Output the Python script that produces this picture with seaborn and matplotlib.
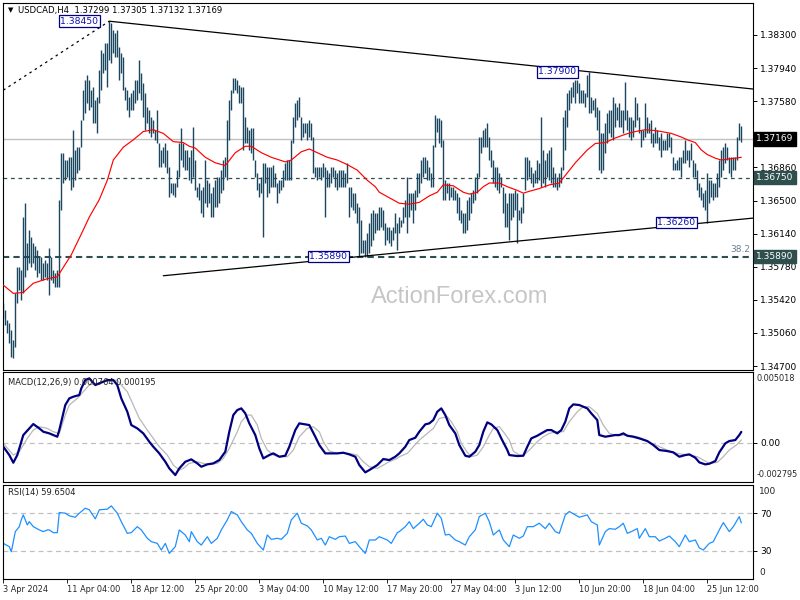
import numpy as np
import pandas as pd
import matplotlib
matplotlib.use("Agg")
import matplotlib.pyplot as plt
from matplotlib import transforms
import seaborn as sns

# ---------------- data ----------------
high = [1.3539,1.3531,1.3520,1.3517,1.3509,1.3498,1.3549,1.3578,1.3578,1.3574,
1.3632,1.3647,1.3604,1.3618,1.3610,1.3604,1.3600,1.3596,1.3589,1.3589,
1.3582,1.3585,1.3582,1.3598,1.3589,1.3574,1.3571,1.3574,1.3651,1.3702,
1.3702,1.3694,1.3694,1.3697,1.3697,1.3727,1.3705,1.3708,1.3708,1.3738,
1.3770,1.3781,1.3787,1.3781,1.3770,1.3773,1.3759,1.3763,1.3792,1.3814,
1.3810,1.3821,1.3821,1.3845,1.3843,1.3835,1.3832,1.3835,1.3817,1.3810,
1.3806,1.3773,1.3770,1.3763,1.3767,1.3770,1.3781,1.3781,1.3803,1.3789,
1.3778,1.3767,1.3752,1.3748,1.3741,1.3738,1.3727,1.3748,1.3713,1.3705,
1.3708,1.3713,1.3705,1.3686,1.3669,1.3669,1.3669,1.3683,1.3713,1.3729,
1.3713,1.3705,1.3705,1.3697,1.3705,1.3730,1.3694,1.3665,1.3669,1.3661,
1.3665,1.3694,1.3672,1.3669,1.3658,1.3665,1.3672,1.3676,1.3676,1.3683,
1.3694,1.3697,1.3738,1.3759,1.3770,1.3783,1.3783,1.3781,1.3776,1.3773,
1.3773,1.3741,1.3730,1.3727,1.3729,1.3729,1.3694,1.3680,1.3669,1.3676,
1.3691,1.3691,1.3686,1.3686,1.3686,1.3689,1.3680,1.3669,1.3672,1.3672,
1.3683,1.3691,1.3694,1.3694,1.3716,1.3741,1.3756,1.3759,1.3763,1.3741,
1.3734,1.3734,1.3734,1.3738,1.3734,1.3719,1.3686,1.3686,1.3686,1.3686,
1.3691,1.3686,1.3683,1.3680,1.3686,1.3686,1.3683,1.3680,1.3683,1.3683,
1.3683,1.3680,1.3691,1.3665,1.3665,1.3658,1.3658,1.3647,1.3643,1.3629,
1.3607,1.3607,1.3615,1.3626,1.3636,1.3640,1.3636,1.3636,1.3643,1.3643,
1.3640,1.3626,1.3621,1.3621,1.3618,1.3621,1.3636,1.3626,1.3632,1.3629,
1.3643,1.3651,1.3676,1.3658,1.3658,1.3658,1.3661,1.3680,1.3680,1.3694,
1.3697,1.3697,1.3694,1.3686,1.3680,1.3710,1.3743,1.3740,1.3740,1.3738,
1.3716,1.3672,1.3669,1.3669,1.3665,1.3665,1.3661,1.3658,1.3654,1.3640,
1.3636,1.3636,1.3651,1.3654,1.3658,1.3661,1.3676,1.3680,1.3719,1.3719,
1.3727,1.3729,1.3734,1.3719,1.3705,1.3694,1.3686,1.3686,1.3680,1.3676,
1.3665,1.3658,1.3647,1.3658,1.3658,1.3658,1.3661,1.3658,1.3640,1.3643,
1.3658,1.3697,1.3697,1.3694,1.3686,1.3680,1.3683,1.3694,1.3691,1.3741,
1.3705,1.3694,1.3702,1.3705,1.3708,1.3686,1.3680,1.3676,1.3680,1.3686,
1.3741,1.3748,1.3767,1.3770,1.3773,1.3779,1.3781,1.3781,1.3778,1.3770,
1.3770,1.3767,1.3787,1.3790,1.3763,1.3759,1.3762,1.3752,1.3748,1.3723,
1.3723,1.3734,1.3745,1.3748,1.3748,1.3763,1.3756,1.3752,1.3756,1.3748,
1.3748,1.3779,1.3748,1.3741,1.3741,1.3738,1.3763,1.3756,1.3741,1.3727,
1.3727,1.3756,1.3741,1.3734,1.3738,1.3723,1.3730,1.3727,1.3719,1.3723,
1.3716,1.3716,1.3723,1.3723,1.3719,1.3697,1.3691,1.3694,1.3697,1.3697,
1.3705,1.3716,1.3705,1.3705,1.3713,1.3694,1.3691,1.3683,1.3669,1.3665,
1.3658,1.3661,1.3680,1.3672,1.3672,1.3669,1.3669,1.3680,1.3694,1.3705,
1.3708,1.3713,1.3708,1.3697,1.3697,1.3697,1.3697,1.3719,1.3734,1.37305]

low = [1.3522,1.3515,1.3506,1.3495,1.3480,1.3479,1.3491,1.3539,1.3553,1.3542,
1.3549,1.3567,1.3574,1.3582,1.3578,1.3582,1.3574,1.3567,1.3571,1.3564,
1.3564,1.3567,1.3564,1.3547,1.3564,1.3560,1.3556,1.3556,1.3556,1.3640,
1.3669,1.3672,1.3676,1.3672,1.3661,1.3665,1.3672,1.3680,1.3683,1.3708,
1.3738,1.3745,1.3756,1.3748,1.3752,1.3734,1.3734,1.3723,1.3756,1.3770,
1.3789,1.3792,1.3773,1.3803,1.3800,1.3810,1.3806,1.3806,1.3781,1.3789,
1.3770,1.3759,1.3748,1.3741,1.3748,1.3748,1.3756,1.3759,1.3767,1.3759,
1.3741,1.3727,1.3734,1.3723,1.3719,1.3723,1.3716,1.3713,1.3686,1.3686,
1.3691,1.3686,1.3680,1.3654,1.3658,1.3656,1.3654,1.3665,1.3676,1.3694,
1.3686,1.3683,1.3683,1.3672,1.3669,1.3676,1.3661,1.3654,1.3651,1.3636,
1.3632,1.3647,1.3643,1.3647,1.3632,1.3632,1.3643,1.3643,1.3647,1.3658,
1.3661,1.3676,1.3672,1.3716,1.3748,1.3767,1.3770,1.3767,1.3756,1.3756,
1.3705,1.3713,1.3713,1.3705,1.3702,1.3694,1.3676,1.3661,1.3654,1.3658,
1.3610,1.3669,1.3654,1.3658,1.3665,1.3665,1.3665,1.3647,1.3658,1.3661,
1.3665,1.3672,1.3672,1.3672,1.3672,1.3713,1.3730,1.3738,1.3741,1.3716,
1.3719,1.3723,1.3716,1.3719,1.3716,1.3680,1.3676,1.3672,1.3676,1.3672,
1.3676,1.3632,1.3665,1.3665,1.3669,1.3676,1.3665,1.3661,1.3665,1.3665,
1.3665,1.3665,1.3669,1.3632,1.3643,1.3640,1.3636,1.3626,1.3589,1.3593,
1.3593,1.3589,1.3589,1.3593,1.3600,1.3607,1.3615,1.3618,1.3618,1.3621,
1.3618,1.3602,1.3607,1.3604,1.3600,1.3607,1.3615,1.3596,1.3615,1.3621,
1.3626,1.3632,1.3615,1.3632,1.3640,1.3626,1.3640,1.3654,1.3658,1.3669,
1.3676,1.3680,1.3672,1.3672,1.3665,1.3665,1.3708,1.3725,1.3713,1.3708,
1.3651,1.3651,1.3658,1.3651,1.3654,1.3651,1.3651,1.3636,1.3629,1.3626,
1.3615,1.3615,1.3618,1.3629,1.3636,1.3647,1.3651,1.3658,1.3676,1.3702,
1.3708,1.3708,1.3708,1.3694,1.3686,1.3669,1.3665,1.3661,1.3658,1.3665,
1.3636,1.3621,1.3621,1.3607,1.3629,1.3632,1.3640,1.3604,1.3629,1.3626,
1.3636,1.3661,1.3672,1.3676,1.3669,1.3665,1.3669,1.3669,1.3672,1.3665,
1.3669,1.3665,1.3676,1.3672,1.3669,1.3665,1.3665,1.3661,1.3665,1.3669,
1.3683,1.3705,1.3730,1.3748,1.3756,1.3763,1.3756,1.3767,1.3756,1.3756,
1.3756,1.3752,1.3763,1.3745,1.3745,1.3748,1.3741,1.3727,1.3683,1.3680,
1.3683,1.3702,1.3713,1.3723,1.3719,1.3716,1.3730,1.3738,1.3730,1.3730,
1.3723,1.3738,1.3727,1.3719,1.3716,1.3719,1.3730,1.3738,1.3723,1.3708,
1.3716,1.3719,1.3723,1.3723,1.3713,1.3708,1.3713,1.3713,1.3705,1.3697,
1.3705,1.3705,1.3705,1.3708,1.3702,1.3683,1.3683,1.3683,1.3683,1.3676,
1.3691,1.3691,1.3694,1.3686,1.3694,1.3676,1.3676,1.3661,1.3654,1.3651,
1.3643,1.3640,1.3626,1.3647,1.3654,1.3651,1.3654,1.3654,1.3665,1.3676,
1.3683,1.3691,1.3694,1.3680,1.3676,1.3683,1.3683,1.3694,1.3716,1.37132]

ma_bar = [0,5,10,15,22,27,34,40,43,48,52,55,60,65,70,75,80,85,90,93,96,101,106,111,116,121,124,129,
          134,141,144,149,153,157,162,167,172,177,182,186,188,193,198,203,208,213,217,220,225,230,233,
          237,240,243,248,252,257,260,263,268,273,278,282,286,289,292,296,301,306,311,316,321,326,329,
          334,339,342,346,349,352,356,359,362,366,369]
ma_val = [1.3558,1.3549,1.3550,1.3560,1.3565,1.3567,1.3591,1.3618,1.3632,1.3651,1.3672,1.3694,1.3708,
          1.3716,1.3725,1.3727,1.3723,1.3714,1.3713,1.3709,1.3707,1.3697,1.3691,1.3688,1.3702,1.3709,
          1.3709,1.3702,1.3697,1.3692,1.3694,1.3703,1.3706,1.3702,1.3697,1.3694,1.3689,1.3683,1.3672,
          1.3665,1.3659,1.3653,1.3647,1.3646,1.3648,1.3655,1.3659,1.3667,1.3666,1.3659,1.3657,1.3659,
          1.3665,1.3669,1.3669,1.3665,1.3661,1.3658,1.3660,1.3663,1.3667,1.3669,1.3680,1.3691,1.3698,
          1.3705,1.3712,1.3713,1.3718,1.3722,1.3725,1.3727,1.3726,1.3725,1.3723,1.3719,1.3716,1.3713,
          1.3705,1.3700,1.3696,1.3694,1.3695,1.3696,1.3697]

macd_bar = [0,3,5,7,10,13,15,18,20,23,25,27,28,31,33,35,38,39,41,43,46,48,52,55,57,59,62,64,67,70,73,
            75,78,81,83,86,88,91,94,97,99,102,105,108,111,113,115,117,119,121,123,126,128,130,133,135,
            138,141,143,146,148,151,153,156,158,161,163,167,170,173,176,178,181,183,187,190,193,196,198,
            201,203,206,208,211,213,215,217,219,221,223,226,228,231,233,236,238,240,242,244,247,249,252,
            253,257,260,262,264,267,269,272,274,277,279,281,283,285,288,292,294,297,298,301,303,306,308,
            310,312,315,318,322,325,328,332,335,338,341,343,346,348,351,353,356,358,361,363,366,368,369]
macd_val = [-289,-881,-1425,-881,540,1013,1321,1013,777,658,540,421,895,2671,3144,3263,3381,3855,4446,
            4565,4091,4210,4446,4446,4091,3144,2197,1250,1013,658,66,-289,-762,-1355,-1828,-2301,-1828,
            -1355,-1188,-1473,-1710,-1544,-1473,-1236,-644,777,1960,2316,2434,2079,1369,540,-407,-1117,
            -881,-762,-999,-928,-289,895,1369,1298,1250,421,-170,-762,-762,-762,-715,-833,-999,-1591,
            -2112,-1946,-1591,-1165,-1236,-999,-762,-289,185,350,777,1298,1369,1605,2197,2434,1960,1250,
            658,-170,-928,-999,-644,-170,777,1440,1298,895,303,-526,-881,-952,-928,-289,303,492,658,895,
            895,658,895,1487,2434,2718,2671,2434,2079,1605,540,421,469,540,540,658,492,421,303,114,-170,
            -526,-597,-691,-999,-881,-833,-1070,-1401,-1544,-1497,-1307,-691,-52,114,185,540,764]

sig_bar = [0,5,8,12,15,18,22,25,28,31,33,37,40,43,47,50,53,57,59,62,65,68,72,75,78,82,85,88,90,93,97,
           100,103,107,110,113,117,119,122,124,127,129,132,135,138,142,145,148,152,155,158,160,163,167,
           170,173,177,180,183,187,190,193,197,198,202,205,208,212,215,218,222,224,227,229,232,234,237,
           240,243,245,248,250,253,255,258,260,263,267,270,273,277,280,283,287,290,293,297,300,303,307,
           310,313,317,320,323,327,330,333,337,340,343,347,350,353,357,360,363,367,369]
sig_val = [-52,-881,-644,303,895,1132,1013,777,658,1960,2671,3144,3618,4091,4210,4328,4375,4446,4091,
           3618,2671,1724,895,303,-289,-881,-1591,-1946,-1828,-1473,-1355,-1473,-1544,-1473,-1117,-407,
           777,1487,1960,1960,1250,303,-526,-881,-999,-999,-526,421,1013,1132,777,66,-597,-762,-762,-762,
           -881,-1355,-1710,-1828,-1591,-1355,-1117,-999,-762,-289,185,658,1013,1724,1842,1487,777,-52,
           -691,-999,-881,-289,540,1013,1132,777,185,-597,-881,-928,-526,66,421,658,777,777,1487,2197,
           2552,2552,2079,1250,658,492,540,492,421,256,19,-218,-407,-597,-762,-833,-881,-999,-1236,-1473,
           -1401,-999,-526,-123,195]

rsi_bar = [0,3,4,6,8,9,10,12,13,15,18,20,22,23,25,27,28,31,33,36,38,41,43,46,48,52,54,57,59,62,64,67,
           69,72,74,77,79,81,83,86,88,91,93,94,97,99,102,104,107,109,112,114,117,119,122,124,127,130,132,
           134,137,139,142,144,147,149,152,154,157,159,161,163,166,168,171,173,176,178,181,183,186,188,
           192,194,197,198,201,203,205,208,210,212,214,217,219,221,223,226,228,231,233,236,238,241,243,
           245,248,250,253,255,258,260,262,265,268,271,273,276,278,281,283,286,288,292,294,297,298,301,
           303,306,308,310,312,314,317,318,321,323,326,328,331,333,336,338,341,343,346,348,350,353,355,
           358,360,363,365,368,369]
rsi_val = [37.9,34.4,29.0,50.4,55.7,62.9,68.2,57.5,61.0,55.7,52.2,50.4,52.2,52.2,49.3,49.3,70.7,70.0,
           67.2,65.7,70.0,75.3,73.6,64.0,73.6,74.3,77.8,70.0,61.0,48.6,49.3,55.7,52.2,43.3,39.7,37.9,
           30.8,37.9,27.2,34.4,52.2,46.8,39.7,50.4,39.7,36.1,45.0,37.9,43.3,52.2,62.9,71.8,68.2,61.0,
           52.2,48.6,37.9,30.8,46.8,42.2,43.3,42.2,48.6,62.9,70.0,59.3,56.5,52.2,41.5,43.3,36.1,45.0,
           42.2,45.0,45.7,37.9,39.7,34.4,27.2,41.5,41.5,45.0,41.5,37.9,49.3,50.4,55.7,61.0,53.6,59.3,
           63.6,57.5,55.7,70.0,64.6,46.8,47.5,41.5,39.7,36.1,45.0,52.2,66.4,70.0,61.0,46.8,52.2,41.5,
           34.4,46.8,43.3,45.7,55.7,55.7,59.3,53.6,59.3,50.4,48.6,68.2,71.8,68.2,65.7,68.2,61.0,57.5,
           36.1,50.4,53.6,52.9,55.7,59.3,48.6,50.4,53.6,43.3,53.6,45.0,45.0,40.4,43.3,45.7,39.7,34.4,
           46.8,39.7,41.5,33.1,30.8,37.9,39.7,52.2,60.0,50.4,55.7,66.4,59.65]

date_bar = [0, 32, 64, 96, 128, 160, 192, 224, 256, 288, 320, 352]
date_labels = ["3 Apr 2024", "11 Apr 04:00", "18 Apr 12:00", "25 Apr 20:00", "3 May 04:00",
               "10 May 12:00", "17 May 20:00", "27 May 04:00", "3 Jun 12:00", "10 Jun 20:00",
               "18 Jun 04:00", "25 Jun 12:00"]
price_ticks = [1.3830, 1.3794, 1.3758, 1.3722, 1.3686, 1.3650, 1.3614, 1.3578, 1.3542, 1.3506, 1.3470]

# trendline anchors (bar, price)
upper_bar, upper_px = [53, 293], [1.3845, 1.3790]
lower_bar, lower_px = [178, 352], [1.3589, 1.3626]
dotted_bar, dotted_px = [0, 53], [1.3770, 1.3845]

last_price = 1.37169
level_a = 1.3675
level_b = 1.3589
swing_bar = [47.5, 286.5, 346, 172]
swing_px = [1.3845, 1.3790, 1.3626, 1.3589]
swing_txt = ["1.38450", "1.37900", "1.36260", "1.35890"]

# ---------------- figure ----------------
sns.set_style("white")
plt.rcParams["font.family"] = ["DejaVu Sans"]
plt.rcParams["axes.linewidth"] = 0.8

BAR = "#1a4660"
FS = 6.5
W, H = 800, 600
fig = plt.figure(figsize=(8, 6), dpi=100)
L, WD = 3 / W, 750 / W
ax1 = fig.add_axes([L, 1 - 370 / H, WD, 367 / H])
ax2 = fig.add_axes([L, 1 - 482 / H, WD, 110 / H])
ax3 = fig.add_axes([L, 1 - 579 / H, WD, 94 / H])

XMIN, XMAX = -0.15, 374.85
for ax in (ax1, ax2, ax3):
    ax.set_xlim(XMIN, XMAX)
    for s in ax.spines.values():
        s.set_color("black")
        s.set_linewidth(0.8)
    ax.set_xticks([])
    ax.yaxis.tick_right()
    ax.tick_params(axis="y", direction="out", length=3, width=0.7, colors="black",
                   labelsize=FS, pad=2)

# ---- main price panel ----
bars = pd.DataFrame({"bar": np.arange(len(high)), "high": high, "low": low})
ax1.set_ylim(1.346566, 1.386480)
ax1.axhline(last_price, color="#c0c0c0", lw=1.0, zorder=1)
ax1.axhline(level_a, color="#2f4f4f", lw=0.9, ls=(0, (3, 3)), zorder=1)
ax1.axhline(level_b, color="#2f4f4f", lw=1.5, ls=(0, (3, 2)), zorder=1)
ax1.vlines(bars["bar"], bars["low"], bars["high"], colors=BAR, linewidth=1.0,
           antialiased=True, zorder=2)
sns.lineplot(x=ma_bar, y=ma_val, ax=ax1, color="#ff0000", linewidth=0.85, zorder=3)

def extend(bx, py, x0, x1):
    slope = (py[1] - py[0]) / (bx[1] - bx[0])
    return [x0, x1], [py[0] + slope * (x0 - bx[0]), py[0] + slope * (x1 - bx[0])]

ux, uy = extend(upper_bar, upper_px, upper_bar[0], XMAX)
ax1.plot(ux, uy, color="black", lw=0.9, zorder=4)
lx, ly = extend(lower_bar, lower_px, 80, XMAX)
ax1.plot(lx, ly, color="black", lw=0.9, zorder=4)
ax1.plot(dotted_bar, dotted_px, color="black", lw=0.9, ls=(0, (2, 3)), zorder=4)

ax1.set_yticks(price_ticks)
# the 1.37220 label sits hidden under the current-price box in the reference
ax1.set_yticklabels([("" if abs(t - 1.3722) < 1e-6 else f"{t:.5f}") for t in price_ticks])

for bx, py, tx in zip(swing_bar, swing_px, swing_txt):
    ax1.text(bx, py, tx, ha="right", va="center", fontsize=6.7, color="#1010b0", zorder=6,
             bbox=dict(boxstyle="square,pad=0.15", fc="white", ec="#000080", lw=0.9))

ax1.text(373.4, 1.3597, "38.2", ha="right", va="center", fontsize=FS, color="#6a8090", zorder=6)

tr = transforms.blended_transform_factory(ax1.transAxes, ax1.transData)
ax1.text(1.004, last_price, f"{last_price:.5f}", transform=tr, ha="left", va="center",
         fontsize=FS, color="white", zorder=10,
         bbox=dict(boxstyle="square,pad=0.25", fc="black", ec="black"))
for lv in (level_a, level_b):
    ax1.text(1.004, lv, f"{lv:.5f}", transform=tr, ha="left", va="center", fontsize=FS,
             color="white", zorder=10,
             bbox=dict(boxstyle="square,pad=0.25", fc="#2f4f4f", ec="#2f4f4f"))

fig.text(460 / W, 1 - 297 / H, "ActionForex.com", ha="center", va="center", fontsize=17,
         color="#c6c6c6", family=["Liberation Sans", "DejaVu Sans"])
fig.text(8 / W, 1 - 10 / H, "\u25BC", ha="left", va="center", fontsize=5, color="black")
fig.text(18 / W, 1 - 10 / H, "USDCAD,H4  1.37299 1.37305 1.37132 1.37169", ha="left",
         va="center", fontsize=6.1, color="black")

# ---- MACD panel ----
ax2.set_ylim(-0.002795, 0.005018)
ax2.axhline(0, color="#c0c0c0", lw=0.9, ls=(0, (4, 3)), zorder=1)
sns.lineplot(x=sig_bar, y=np.array(sig_val) * 1e-6, ax=ax2, color="#b8b8b8", linewidth=0.9, zorder=2)
sns.lineplot(x=macd_bar, y=np.array(macd_val) * 1e-6, ax=ax2, color="#000080", linewidth=1.6, zorder=3)
ax2.set_yticks([0])
ax2.set_yticklabels(["0.00"])
ax2.text(1.005, 0.94, "0.005018", transform=ax2.transAxes, ha="left", va="center", fontsize=5.9)
ax2.text(1.005, 0.07, "-0.002795", transform=ax2.transAxes, ha="left", va="center", fontsize=5.9)
ax2.text(0.0067, 0.9, "MACD(12,26,9) 0.000764 0.000195", transform=ax2.transAxes, ha="left",
         va="center", fontsize=6.0, color="#202020")

# ---- RSI panel ----
ax3.set_ylim(0, 100)
for lv in (70, 30):
    ax3.axhline(lv, color="#c0c0c0", lw=0.9, ls=(0, (4, 3)), zorder=1)
sns.lineplot(x=rsi_bar, y=rsi_val, ax=ax3, color="#1e90ff", linewidth=0.9, zorder=2)
ax3.set_yticks([70, 30])
ax3.set_yticklabels(["70", "30"])
ax3.text(1.008, 0.935, "100", transform=ax3.transAxes, ha="left", va="center", fontsize=FS)
ax3.text(1.008, 0.065, "0", transform=ax3.transAxes, ha="left", va="center", fontsize=FS)
ax3.text(0.0067, 0.915, "RSI(14) 59.6504", transform=ax3.transAxes, ha="left", va="center",
         fontsize=6.0, color="#202020")
ax3.set_xticks(date_bar)
ax3.set_xticklabels(date_labels)
ax3.tick_params(axis="x", direction="out", length=3, width=0.7, labelsize=5.9, pad=1.5,
                bottom=True)
for lab in ax3.get_xticklabels():
    lab.set_horizontalalignment("left")

for ax in (ax1, ax2, ax3):
    ax.set_xlabel("")
    ax.set_ylabel("")
    if ax.get_legend():
        ax.get_legend().remove()

fig.savefig("out.png", dpi=100)
